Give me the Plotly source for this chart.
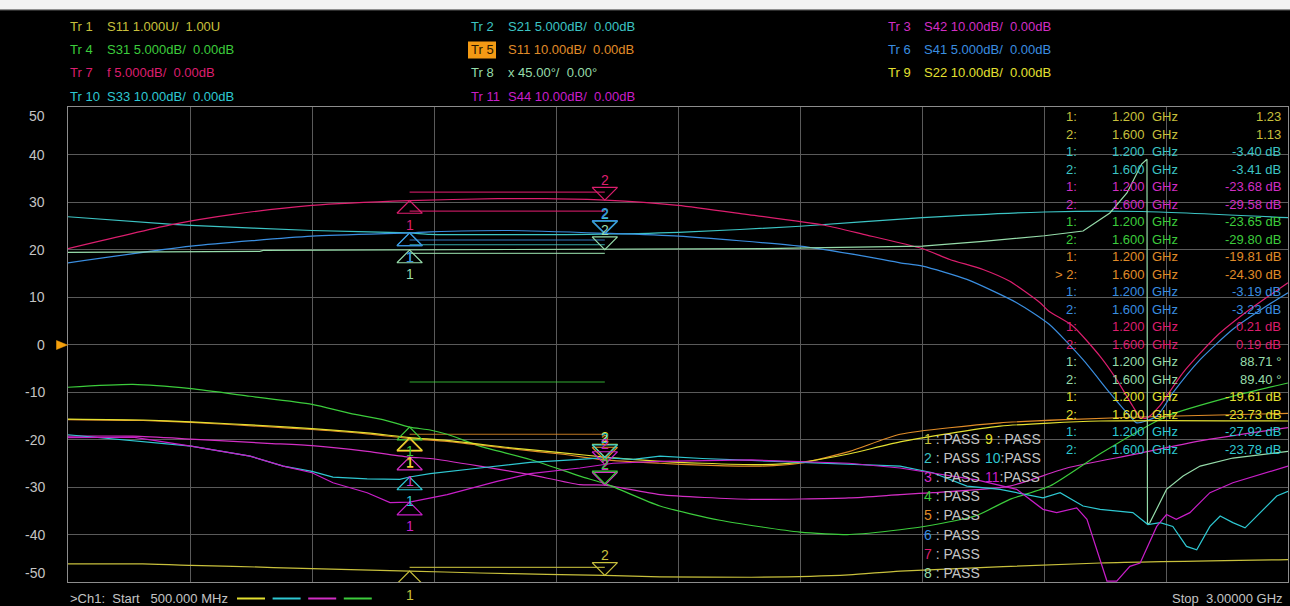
import numpy as np
import plotly.graph_objects as go

# ---------------- data (display grid units, freq in MHz) ----------------
F_START, F_STOP = 500, 3000
MARKER_F = [1200, 1600]

tr1_f = [500, 653, 752, 838, 1000, 1200, 1344, 1481, 1600, 1713, 1900, 2100, 2205, 2615, 3000]
tr1_y = [-46.2, -46.2, -46.5, -46.7, -47.2, -47.7, -48.1, -48.4, -48.6, -48.9, -49.0, -48.5, -47.7, -46.0, -45.3]

tr2_f = [500, 715, 752, 1000, 1200, 1242, 1566, 1751, 2000, 2251, 2501, 2700, 3000]
tr2_y = [26.9, 25.3, 25.1, 24.0, 23.5, 23.2, 23.2, 23.6, 24.9, 26.7, 27.9, 28.0, 26.7]

tr3_f = [500, 633, 752, 908, 1000, 1113, 1200, 1242, 1344, 1447, 1549, 1600, 1713, 1900, 2100, 2205, 2272, 2430, 2547, 2682, 2820, 3000]
tr3_y = [-19.3, -19.3, -19.9, -20.8, -21.3, -22.5, -23.7, -24.0, -25.6, -27.4, -29.5, -29.6, -31.6, -32.6, -32.3, -31.6, -31.2, -29.8, -26.0, -23.2, -20.3, -17.5]

tr4_f = [500, 633, 752, 873, 1000, 1078, 1145, 1200, 1242, 1277, 1344, 1447, 1549, 1606, 1713, 1836, 2000, 2102, 2205, 2272, 2362, 2430, 2512, 2615, 2751, 2887, 3000]
tr4_y = [-9.0, -8.4, -9.3, -10.9, -12.6, -14.5, -15.8, -17.4, -18.0, -18.9, -21.4, -24.2, -27.7, -29.5, -34.0, -37.0, -39.5, -40.0, -39.0, -38.0, -36.0, -32.6, -29.8, -23.0, -15.1, -10.9, -8.1]

tr5_f = [500, 654, 752, 908, 1000, 1113, 1200, 1277, 1412, 1514, 1600, 1713, 1800, 1920, 2000, 2102, 2205, 2410, 2547, 2751, 3000]
tr5_y = [-15.8, -16.0, -16.4, -17.3, -17.9, -18.8, -19.8, -20.4, -22.0, -23.1, -24.3, -25.0, -25.4, -25.6, -25.0, -22.5, -18.9, -16.5, -15.8, -15.1, -14.5]

tr6_f = [500, 752, 1000, 1200, 1242, 1404, 1605, 1751, 2000, 2131, 2205, 2251, 2342, 2444, 2510, 2580, 2635, 2676, 2690, 2731, 2764, 2820, 2887, 2956, 3000]
tr6_y = [17.2, 20.7, 22.8, 23.5, 23.7, 24.0, 23.4, 22.8, 20.7, 18.6, 17.2, 16.5, 13.7, 8.8, 4.3, -3.2, -10.2, -15.1, -16.5, -15.1, -10.2, -3.2, 3.2, 8.1, 10.9]

tr7_f = [500, 715, 838, 1000, 1200, 1380, 1480, 1600, 1750, 1890, 2050, 2130, 2250, 2307, 2375, 2430, 2492, 2510, 2559, 2615, 2649, 2682, 2697, 2710, 2738, 2785, 2854, 2922, 3000]
tr7_y = [20.2, 25.3, 27.4, 29.3, 30.3, 30.7, 30.7, 30.4, 29.3, 27.4, 25.1, 23.2, 20.2, 17.9, 15.8, 13.3, 8.8, 7.0, 3.9, -2.5, -7.4, -13.0, -15.3, -15.5, -12.8, -5.9, 1.8, 7.4, 13.0]

tr8_f = [500, 893, 900, 1242, 1727, 1929, 2050, 2251, 2375, 2501, 2580, 2635, 2670, 2691, 2700, 2711, 2712, 2717, 2751, 2785, 2820, 2887, 3000]
tr8_y = [19.4, 19.6, 19.8, 19.9, 20.0, 20.2, 20.4, 20.7, 21.7, 22.9, 23.9, 27.7, 31.9, 36.1, 38.0, 39.0, -37.9, -37.5, -30.5, -27.7, -25.6, -23.9, -22.5]

tr9_f = [500, 654, 752, 908, 1000, 1113, 1200, 1277, 1412, 1514, 1600, 1713, 1800, 1920, 2000, 2102, 2205, 2410, 2615, 3000]
tr9_y = [-15.7, -15.9, -16.3, -17.1, -17.7, -18.6, -19.6, -20.2, -21.8, -22.8, -23.7, -24.6, -25.0, -25.3, -24.8, -23.0, -20.5, -17.2, -16.1, -16.1]

tr10_f = [500, 752, 873, 941, 1000, 1043, 1113, 1180, 1200, 1242, 1344, 1447, 1549, 1600, 1658, 1713, 1800, 2000, 2205, 2272, 2342, 2410, 2498, 2533, 2580, 2615, 2682, 2713, 2738, 2764, 2792, 2813, 2840, 2861, 2887, 2912, 2943, 2977, 3000]
tr10_y = [-19.0, -21.4, -23.5, -25.6, -26.7, -27.9, -28.3, -28.4, -27.9, -27.2, -26.0, -24.8, -24.2, -23.8, -24.2, -23.5, -24.0, -24.8, -25.6, -27.0, -29.8, -30.5, -32.3, -31.2, -34.0, -34.7, -35.4, -37.9, -37.5, -38.3, -42.5, -43.2, -38.3, -36.1, -37.5, -38.6, -35.4, -31.9, -30.9]

tr11_f = [500, 633, 752, 873, 941, 1000, 1043, 1113, 1160, 1200, 1277, 1379, 1447, 1549, 1617, 1713, 1900, 2100, 2205, 2362, 2444, 2498, 2526, 2567, 2588, 2615, 2629, 2649, 2676, 2697, 2731, 2751, 2771, 2799, 2840, 2887, 2956, 3000]
tr11_y = [-19.6, -19.5, -21.4, -23.5, -25.6, -27.0, -29.1, -31.2, -33.3, -33.2, -31.6, -28.8, -27.2, -26.0, -25.0, -24.6, -24.3, -25.0, -26.0, -28.5, -30.5, -34.7, -35.4, -34.4, -36.8, -45.3, -49.8, -49.8, -46.7, -46.0, -38.3, -35.8, -36.8, -35.4, -31.2, -29.1, -27.0, -25.6]

# limit line segments (trace number, value) spanning marker 1 -> marker 2
limit_trace = [7, 7, 6, 2, 8, 4, 5, 1]
limit_value = [32.1, 28.1, 22.0, 21.0, 19.2, -7.9, -18.9, -46.9]

trace_names = ["Tr 1", "Tr 2", "Tr 3", "Tr 4", "Tr 5", "Tr 6", "Tr 7", "Tr 8", "Tr 9", "Tr 10", "Tr 11"]
trace_params = ["S11 1.000U/\u00a0\u00a01.00U", "S21 5.000dB/\u00a0\u00a00.00dB", "S42 10.00dB/\u00a0\u00a00.00dB",
                "S31 5.000dB/\u00a0\u00a00.00dB", "S11 10.00dB/\u00a0\u00a00.00dB", "S41 5.000dB/\u00a0\u00a00.00dB",
                "f 5.000dB/\u00a0\u00a00.00dB", "x 45.00°/\u00a0\u00a00.00°", "S22 10.00dB/\u00a0\u00a00.00dB",
                "S33 10.00dB/\u00a0\u00a00.00dB", "S44 10.00dB/\u00a0\u00a00.00dB"]
trace_colors = ["#c8c03c", "#3cc4c4", "#d22ec4", "#3ccc3c", "#e08c28", "#3a8ee0",
                "#dc1e6e", "#96dcaa", "#e4e030", "#2ec8d2", "#c81ec8"]
trace_smooth = [True, True, True, True, True, True, True, False, True, False, False]

marker_values = [["1.23", "1.13"], ["-3.40 dB", "-3.41 dB"], ["-23.68 dB", "-29.58 dB"],
                 ["-23.65 dB", "-29.80 dB"], ["-19.81 dB", "-24.30 dB"], ["-3.19 dB", "-3.23 dB"],
                 ["0.21 dB", "0.19 dB"], ["88.71 °", "89.40 °"], ["-19.61 dB", "-23.73 dB"],
                 ["-27.92 dB", "-23.78 dB"]]
marker_freq_text = ["1.200", "1.600"]

y_tick_vals = [50, 40, 30, 20, 10, 0, -10, -20, -30, -40, -50]

traces_f = [tr1_f, tr2_f, tr3_f, tr4_f, tr5_f, tr6_f, tr7_f, tr8_f, tr9_f, tr10_f, tr11_f]
traces_y = [tr1_y, tr2_y, tr3_y, tr4_y, tr5_y, tr6_y, tr7_y, tr8_y, tr9_y, tr10_y, tr11_y]

# ---------------- layout helpers ----------------
FONT = "Liberation Sans, Arial, sans-serif"
PL, PR, PT, PB = 68, 1288, 107, 582
GRAY = "#c4c4c4"
PX_PER_UNIT = (PB - PT) / 100.0


def pxx(x):
    return (x - PL) / (PR - PL)


def pxy(y):
    return (PB - y) / (PB - PT)


fig = go.Figure()
ann = []
shapes = []

# limit lines
for ti, v in zip(limit_trace, limit_value):
    fig.add_trace(go.Scatter(x=MARKER_F, y=[v, v], mode="lines",
                             line=dict(color=trace_colors[ti - 1], width=1.2),
                             opacity=0.85, hoverinfo="skip", showlegend=False))

# traces
for f, y, c, sm in zip(traces_f, traces_y, trace_colors, trace_smooth):
    fig.add_trace(go.Scatter(x=f, y=y, mode="lines",
                             line=dict(color=c, width=1.2,
                                       shape="spline" if sm else "linear", smoothing=0.6),
                             hoverinfo="skip", showlegend=False))

# markers (outlined triangles + numbers)
DXF = 12.7 * (F_STOP - F_START) / (PR - PL)
DYU = 12.7 / PX_PER_UNIT
for f, y, c in zip(traces_f, traces_y, trace_colors):
    m = np.interp(MARKER_F, f, y)
    xs = [MARKER_F[0] - DXF, MARKER_F[0], MARKER_F[0] + DXF, MARKER_F[0] - DXF, None,
          MARKER_F[1] - DXF, MARKER_F[1], MARKER_F[1] + DXF, MARKER_F[1] - DXF]
    ys = [m[0] - DYU, m[0], m[0] - DYU, m[0] - DYU, None,
          m[1] + DYU, m[1], m[1] + DYU, m[1] + DYU]
    fig.add_trace(go.Scatter(x=xs, y=ys, mode="lines", line=dict(color=c, width=1.2),
                             cliponaxis=False, hoverinfo="skip", showlegend=False))
    ann.append(dict(x=MARKER_F[0], y=m[0], xref="x", yref="y", yshift=-24, text="1",
                    xanchor="center", font=dict(color=c, size=14)))
    ann.append(dict(x=MARKER_F[1], y=m[1], xref="x", yref="y", yshift=20, text="2",
                    xanchor="center", font=dict(color=c, size=14)))

# white strip at top
shapes.append(dict(type="rect", xref="paper", yref="paper", x0=pxx(0), x1=pxx(1290),
                   y0=pxy(9.5), y1=pxy(-1), fillcolor="#f2f2f2", line=dict(width=0), layer="above"))
shapes.append(dict(type="line", xref="paper", yref="paper", x0=pxx(0), x1=pxx(1290),
                   y0=pxy(9.8), y1=pxy(9.8), line=dict(color="#9a9a9a", width=1), layer="above"))

# header
col_x = [(68, 105), (469, 505.5), (886, 921.5)]
row_y = [26, 49.5, 72.5, 96]
for i in range(11):
    r, cidx = divmod(i, 3)
    tx, px_ = col_x[cidx]
    yy = row_y[r]
    col = trace_colors[i]
    tcol = col
    if i == 4:
        shapes.append(dict(type="rect", xref="paper", yref="paper", x0=pxx(468), x1=pxx(496),
                           y0=pxy(58.5), y1=pxy(41.5), fillcolor="#f39a14", line=dict(width=0)))
        tcol = "#2a1800"
    ann.append(dict(x=pxx(tx), y=pxy(yy), text=trace_names[i].replace(" ", "\u00a0"),
                    font=dict(color=tcol)))
    ann.append(dict(x=pxx(px_), y=pxy(yy), text=trace_params[i], font=dict(color=col)))

# y tick labels
for v in y_tick_vals:
    shift = -8.5 if v == 50 else (9 if v == -50 else 0)
    ann.append(dict(x=pxx(47), y=v, yref="y", yshift=shift, text=str(v),
                    xanchor="right", font=dict(color=GRAY, size=14)))

# marker readout table
for k, vals in enumerate(marker_values):
    for j in range(2):
        row = 2 * k + j
        yy = 116.5 + row * 17.5
        col = trace_colors[k]
        lab = ("> " if (k == 4 and j == 1) else "") + f"{j + 1}:"
        ann.append(dict(x=pxx(1079), y=pxy(yy), text=lab, xanchor="right", font=dict(color=col)))
        ann.append(dict(x=pxx(1110), y=pxy(yy), text=marker_freq_text[j], font=dict(color=col)))
        ann.append(dict(x=pxx(1150), y=pxy(yy), text="GHz", font=dict(color=col)))
        ann.append(dict(x=pxx(1283), y=pxy(yy), text=vals[j], xanchor="right", font=dict(color=col)))

# PASS list
for i in range(11):
    if i < 8:
        xx, yy = 922, 438.5 + i * 19.2
    else:
        xx, yy = 982.5, 438.5 + (i - 8) * 19.2
    num = str(i + 1)
    sep = ":" if len(num) == 2 else "\u00a0:\u00a0"
    txt = (f'<span style="color:{trace_colors[i]}">{num}</span>'
           f'<span style="color:{GRAY}">{sep}PASS</span>')
    ann.append(dict(x=pxx(xx), y=pxy(yy), text=txt, font=dict(size=14)))

# bottom status line
ann.append(dict(x=pxx(68), y=pxy(598.5), text=">Ch1:\u00a0\u00a0Start\u00a0\u00a0\u00a0500.000 MHz",
                font=dict(color=GRAY)))
ann.append(dict(x=pxx(1285), y=pxy(598.5), text="Stop\u00a0\u00a03.00000 GHz", xanchor="right",
                font=dict(color=GRAY)))
dash_cols = ["#e4e030", "#2ec8d2", "#d22ec4", "#3ccc3c"]
for n, c in enumerate(dash_cols):
    x0 = 237 + n * 35.6
    shapes.append(dict(type="line", xref="paper", yref="paper", x0=pxx(x0), x1=pxx(x0 + 28),
                       y0=pxy(598.5), y1=pxy(598.5), line=dict(color=c, width=2)))

# reference position arrow
shapes.append(dict(type="path", xref="paper", yref="paper",
                   path=f"M {pxx(56.5)} {pxy(340.5)} L {pxx(67.5)} {pxy(345)} L {pxx(56.5)} {pxy(349.5)} Z",
                   fillcolor="#f5a00c", line=dict(color="#f5a00c", width=0.5)))

for a in ann:
    a.setdefault("xref", "paper")
    a.setdefault("yref", "paper")
    a.setdefault("showarrow", False)
    a.setdefault("xanchor", "left")
    a.setdefault("yanchor", "middle")
    f = a.setdefault("font", {})
    f.setdefault("family", FONT)
    f.setdefault("size", 13)

fig.update_layout(
    width=1290, height=606,
    margin=dict(l=PL, r=1290 - PR, t=PT, b=606 - PB, pad=0),
    paper_bgcolor="#000000", plot_bgcolor="#000000",
    xaxis=dict(range=[F_START, F_STOP], tick0=F_START, dtick=250, showgrid=True,
               gridcolor="#5a5a5a", gridwidth=1, zeroline=False, showticklabels=False,
               showline=True, linecolor="#8c8c8c", linewidth=1, mirror=True, ticks=""),
    yaxis=dict(range=[-50, 50], tick0=-50, dtick=10, showgrid=True,
               gridcolor="#5a5a5a", gridwidth=1, zeroline=False, showticklabels=False,
               showline=True, linecolor="#8c8c8c", linewidth=1, mirror=True, ticks=""),
    annotations=ann, shapes=shapes, showlegend=False,
)

fig.write_html("out.html")
